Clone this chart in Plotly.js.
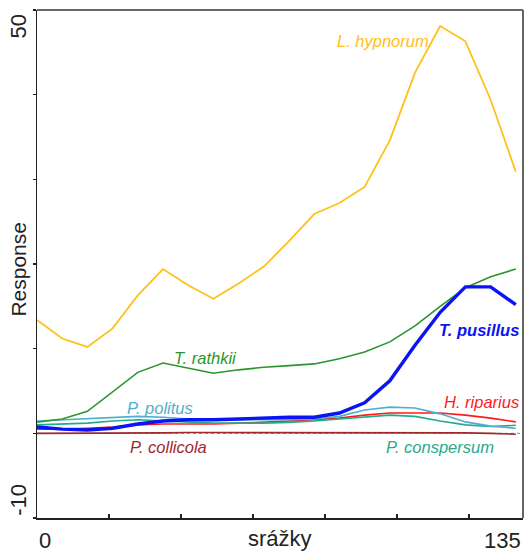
<!DOCTYPE html>
<html>
<head>
<meta charset="utf-8">
<script src="https://cdn.plot.ly/plotly-3.0.1.min.js"></script>
<style>
  html, body { margin: 0; padding: 0; background: #fff; }
  #chart { width: 526px; height: 552px; }
</style>
</head>
<body>
<div id="chart"></div>
<script>
// Precipitation gradient (srážky) and fitted species responses
const srazky = [0, 7, 14, 21, 28, 35, 42, 49, 56, 63, 70, 77, 84, 91, 98, 105, 112, 119, 126, 133];

const lHypnorum   = [13.4, 11.2, 10.2, 12.4, 16.3, 19.4, 17.5, 15.9, 17.7, 19.7, 22.7, 25.9, 27.2, 29.1, 34.6, 42.6, 48.1, 46.3, 39.4, 30.9];
const tRathkii    = [1.3, 1.7, 2.6, 4.9, 7.2, 8.3, 7.7, 7.1, 7.5, 7.8, 8.0, 8.2, 8.8, 9.6, 10.8, 12.7, 15.0, 17.2, 18.5, 19.4];
const tPusillus   = [0.75, 0.5, 0.4, 0.6, 1.1, 1.45, 1.6, 1.6, 1.7, 1.8, 1.9, 1.9, 2.4, 3.6, 6.2, 10.4, 14.3, 17.3, 17.3, 15.2];
const pPolitus    = [1.45, 1.6, 1.7, 1.9, 2.0, 1.9, 1.7, 1.6, 1.6, 1.6, 1.6, 1.7, 2.0, 2.75, 3.1, 3.0, 2.3, 1.35, 0.85, 0.6];
const pConspersum = [1.0, 1.1, 1.2, 1.45, 1.6, 1.45, 1.3, 1.2, 1.2, 1.2, 1.3, 1.45, 1.7, 1.9, 2.15, 2.0, 1.45, 1.0, 0.8, 0.95];
const hRiparius   = [0.5, 0.5, 0.6, 0.75, 1.0, 1.1, 1.1, 1.1, 1.2, 1.3, 1.45, 1.6, 1.8, 2.15, 2.4, 2.4, 2.4, 2.15, 1.8, 1.35];
const pCollicola  = [0.0, 0.0, 0.0, 0.0, 0.0, 0.05, 0.1, 0.1, 0.1, 0.1, 0.1, 0.1, 0.1, 0.1, 0.1, 0.1, 0.1, 0.05, 0.0, -0.1];

const speciesNames = ["P. collicola", "H. riparius", "P. conspersum", "P. politus", "T. rathkii", "L. hypnorum", "T. pusillus"];
const speciesVals  = [pCollicola, hRiparius, pConspersum, pPolitus, tRathkii, lHypnorum, tPusillus];
const speciesColor = ["#a0282a", "#ff1a1a", "#25ab8c", "#4eb0cc", "#2a962a", "#ffc01a", "#0a14f5"];
const speciesWidth = [1.6, 1.6, 1.6, 1.6, 1.6, 1.8, 3.4];

// label anchor positions (data units) for each curve's name
const labelX = [36.4, 123.6, 111.9, 34.2, 46.9, 96.1, 122.8];
const labelY = [-1.6, 3.7, -1.6, 3.0, 8.9, 46.3, 12.2];
const labelBold = [false, false, false, false, false, false, true];

const xRange = [0, 135];
const yRange = [-10, 50];
const yTicks = [-10, 0, 10, 20, 30, 40, 50];
const xTicks = [0, 20, 40, 60, 80, 100, 120];

const FONT = "Liberation Sans, Arial, sans-serif";
const AXIS_FONT = { family: FONT, size: 22, color: "#222" };

const traces = speciesNames.map((name, i) => ({
  type: "scatter",
  mode: "lines",
  name: name,
  x: srazky,
  y: speciesVals[i],
  line: { color: speciesColor[i], width: speciesWidth[i], shape: "linear" },
  hoverinfo: "skip"
}));

const annotations = speciesNames.map((name, i) => ({
  x: labelX[i], y: labelY[i], xref: "x", yref: "y",
  text: labelBold[i] ? "<b><i>" + name + "</i></b>" : "<i>" + name + "</i>",
  showarrow: false, xanchor: "center", yanchor: "middle",
  font: { family: FONT, size: 16.5, color: speciesColor[i] }
}));

// axis end labels and axis titles
annotations.push(
  { x: -0.038, y: 48.0, xref: "paper", yref: "y", text: "50", textangle: -90, showarrow: false,
    xanchor: "center", yanchor: "middle", font: AXIS_FONT },
  { x: -0.038, y: -7.9, xref: "paper", yref: "y", text: "-10", textangle: -90, showarrow: false,
    xanchor: "center", yanchor: "middle", font: AXIS_FONT },
  { x: 0, y: 0, xref: "x", yref: "paper", yshift: -8, text: "0", showarrow: false,
    xanchor: "left", yanchor: "top", font: AXIS_FONT },
  { x: 135, y: 0, xref: "x", yref: "paper", yshift: -8, text: "135", showarrow: false,
    xanchor: "right", yanchor: "top", font: AXIS_FONT },
  { x: 0.5, y: 0, xref: "paper", yref: "paper", yshift: -6, text: "srážky", showarrow: false,
    xanchor: "center", yanchor: "top", font: AXIS_FONT },
  { x: -0.038, y: 0.49, xref: "paper", yref: "paper", text: "Response", textangle: -90, showarrow: false,
    xanchor: "center", yanchor: "middle", font: { family: FONT, size: 21, color: "#222" } }
);

const layout = {
  width: 526, height: 552,
  margin: { l: 37, r: 3, t: 10, b: 34 },
  paper_bgcolor: "#ffffff", plot_bgcolor: "#ffffff",
  showlegend: false,
  font: { family: FONT, color: "#222" },
  xaxis: {
    range: xRange, tickvals: xTicks, showticklabels: false,
    ticks: "inside", ticklen: 4, tickwidth: 1.2, tickcolor: "#222",
    showline: true, linecolor: "#222", linewidth: 1.5,
    showgrid: false, zeroline: false, fixedrange: true
  },
  yaxis: {
    range: yRange, tickvals: yTicks, showticklabels: false,
    ticks: "outside", ticklen: 3, tickwidth: 1.2, tickcolor: "#222",
    showline: true, linecolor: "#222", linewidth: 1.5,
    showgrid: false, zeroline: false, fixedrange: true
  },
  shapes: [
    // dotted zero reference
    { type: "line", xref: "paper", yref: "y", x0: 0, x1: 1, y0: 0, y1: 0, layer: "below",
      line: { color: "#888", width: 1, dash: "dot" } },
    // top and right frame
    { type: "line", xref: "paper", yref: "paper", x0: 0, x1: 1, y0: 1, y1: 1,
      line: { color: "#666", width: 2 } },
    { type: "line", xref: "paper", yref: "paper", x0: 1, x1: 1, y0: 0, y1: 1,
      line: { color: "#666", width: 2 } }
  ],
  annotations: annotations
};

Plotly.newPlot("chart", traces, layout, { displayModeBar: false, staticPlot: true });
</script>
</body>
</html>
